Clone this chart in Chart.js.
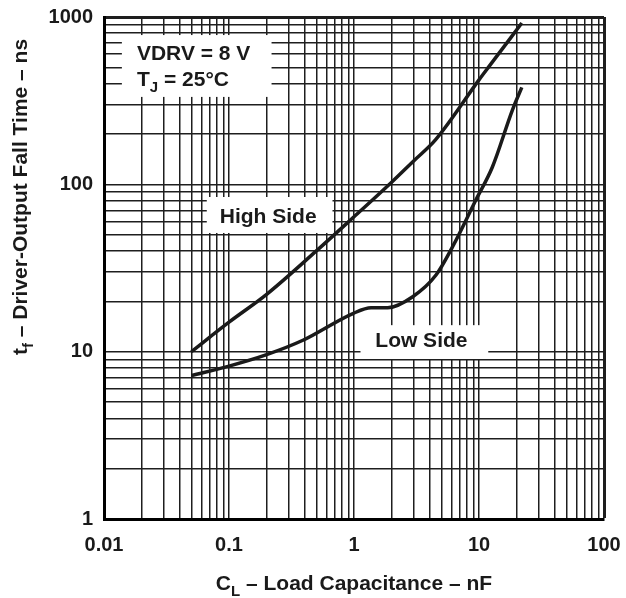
<!DOCTYPE html>
<html>
<head>
<meta charset="utf-8">
<script src="https://cdn.jsdelivr.net/npm/chart.js@4/dist/chart.umd.min.js"></script>
<style>
  html, body { margin:0; padding:0; background:#fff; }
  #wrap { width:626px; height:598px; position:relative; }
</style>
</head>
<body>
<div id="wrap"><canvas id="c"></canvas></div>
<script>
/* ---- data ---- */
const highX = [0.05, 0.1, 0.2, 0.5, 1, 2, 3, 4.5, 10, 12, 22];
const highY = [10, 15, 22, 40, 64, 103, 138, 185, 421, 505, 920];
const lowX  = [0.05, 0.1, 0.2, 0.39, 0.98, 1.37, 1.86, 2.95, 4.53, 6.15, 9.44, 12.8, 18.5, 22];
const lowY  = [7.2, 8.2, 9.6, 11.7, 16.9, 18.3, 18.3, 21.3, 28.7, 42.4, 80.6, 127, 278, 380];

const xTickVals = [0.01, 0.1, 1, 10, 100];
const xTickText = ['0.01', '0.1', '1', '10', '100'];
const yTickVals = [1, 10, 100, 1000];
const yTickText = ['1', '10', '100', '1000'];

const INK = '#1a1a1a';
const FONT = '"Liberation Sans", Arial, sans-serif';

// grid at 1..9 of every decade between the major ticks
function decadeGrid(majors){
  const out = [];
  for(let i=0;i<majors.length-1;i++){
    for(let m=1;m<10;m++) out.push(+(majors[i]*m).toPrecision(6));
  }
  out.push(majors[majors.length-1]);
  return out;
}
const xGrid = decadeGrid(xTickVals);
const yGrid = decadeGrid(yTickVals);

function labelFor(vals, txt, v){
  const i = vals.findIndex(t => Math.abs(t - v) / t < 1e-6);
  return i < 0 ? '' : txt[i];
}

// draw text made of [text, isSub] pieces
function drawParts(ctx, parts, x, y, size, align){
  const sub = Math.round(size*0.72);
  let w = 0;
  parts.forEach(p => { ctx.font = `bold ${p[1]?sub:size}px ${FONT}`; w += ctx.measureText(p[0]).width; });
  let cx = align === 'center' ? x - w/2 : x;
  ctx.textBaseline = 'alphabetic'; ctx.textAlign = 'left'; ctx.fillStyle = INK;
  parts.forEach(p => {
    ctx.font = `bold ${p[1]?sub:size}px ${FONT}`;
    ctx.fillText(p[0], cx, y + (p[1] ? size*0.3 : 0));
    cx += ctx.measureText(p[0]).width;
  });
}

/* white label boxes on the grid, placed in data units */
const notes = [
  { box:[0.0139, 0.219, 780, 333], text:[
      {parts:[['VDRV = 8 V']], x:0.01834, y:553, align:'left'},
      {parts:[['T'],['J',1],[' = 25°C']], x:0.01834, y:387, align:'left'} ]},
  { box:[0.0664, 0.673, 84, 51.2], text:[
      {parts:[['High Side']], x:0.2058, y:58.7, align:'center'} ]},
  { box:[1.127, 11.86, 14.4, 9.04], text:[
      {parts:[['Low Side']], x:3.46, y:10.66, align:'center'} ]},
];

const notesPlugin = {
  id:'notes',
  beforeDatasetsDraw(chart){
    const {ctx, scales:{x, y}} = chart;
    ctx.save();
    notes.forEach(n => {
      const x0 = x.getPixelForValue(n.box[0]), x1 = x.getPixelForValue(n.box[1]);
      const y0 = y.getPixelForValue(n.box[2]), y1 = y.getPixelForValue(n.box[3]);
      ctx.fillStyle = '#fff';
      ctx.fillRect(x0, y0, x1-x0, y1-y0);
      n.text.forEach(t => drawParts(ctx, t.parts, x.getPixelForValue(t.x), y.getPixelForValue(t.y), 21, t.align));
    });
    ctx.restore();
  },
  afterDraw(chart){
    const {ctx} = chart;
    ctx.save();
    drawParts(ctx, [['C'],['L',1],[' – Load Capacitance – nF']], 354, 590, 21, 'center');
    ctx.translate(27, 197);
    ctx.rotate(-Math.PI/2);
    drawParts(ctx, [['t'],['f',1],[' – Driver-Output Fall Time – ns']], 0, 0, 21, 'center');
    ctx.restore();
  }
};

const pts = (xs, ys) => xs.map((v,i) => ({x:v, y:ys[i]}));
const lineStyle = {borderColor:INK, borderWidth:3.5, pointRadius:0, cubicInterpolationMode:'monotone', fill:false};

new Chart(document.getElementById('c'), {
  type:'line',
  data:{ datasets:[
    {label:'High Side', data:pts(highX, highY), ...lineStyle},
    {label:'Low Side',  data:pts(lowX, lowY),  ...lineStyle}
  ]},
  options:{
    responsive:true, maintainAspectRatio:false, animation:false,
    layout:{ padding:{top:17, right:22, bottom:0, left:0} },
    plugins:{ legend:{display:false}, tooltip:{enabled:false} },
    scales:{
      x:{
        type:'logarithmic', position:'bottom', min:0.01, max:100,
        afterBuildTicks: s => { s.ticks = xGrid.map(v => ({value:v})); },
        afterFit: s => { s.height = 79; s.paddingLeft = 0; s.paddingRight = 0; },
        grid:{ color:'#1e1e1e', drawTicks:false, lineWidth: c => (c.tick && c.tick.value === 100) ? 3 : 1.5 },
        border:{ display:true, width:3, color:'#000' },
        ticks:{ autoSkip:false, maxRotation:0, padding:14, color:INK,
          font:{family:FONT, weight:'bold', size:20},
          callback: v => labelFor(xTickVals, xTickText, v) }
      },
      y:{
        type:'logarithmic', position:'left', min:1, max:1000,
        afterBuildTicks: s => { s.ticks = yGrid.map(v => ({value:v})); },
        afterFit: s => { s.width = 104; s.paddingTop = 0; s.paddingBottom = 0; },
        grid:{ color:'#1e1e1e', drawTicks:false, lineWidth: c => (c.tick && c.tick.value === 1000) ? 3 : 1.5 },
        border:{ display:true, width:3, color:'#000' },
        ticks:{ autoSkip:false, padding:11, color:INK,
          font:{family:FONT, weight:'bold', size:20},
          callback: v => labelFor(yTickVals, yTickText, v) }
      }
    }
  },
  plugins:[notesPlugin]
});
</script>
</body>
</html>
